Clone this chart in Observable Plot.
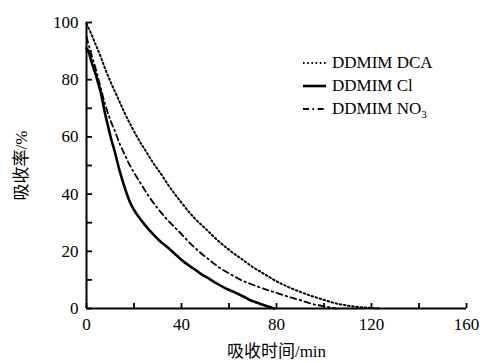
<!DOCTYPE html>
<html>
<head>
<meta charset="utf-8">
<script src="https://cdn.jsdelivr.net/npm/d3@7"></script>
<script src="https://cdn.jsdelivr.net/npm/@observablehq/plot@0.6"></script>
<style>
  html, body { margin: 0; padding: 0; background: #fff; }
  #wrap { position: relative; width: 480px; height: 363px; font-family: 'Liberation Serif', 'Noto Sans CJK SC', serif; }
  #wrap svg, #wrap svg text { font-family: 'Liberation Serif', 'Noto Sans CJK SC', serif !important; }
  #legend { position: absolute; left: 302px; top: 51px; font-size: 17px; color: #000; line-height: 23px; }
  #legend .row { display: flex; align-items: center; height: 23px; white-space: nowrap; }
  #legend svg { margin-right: 5px; }
  #legend sub { font-size: 11px; vertical-align: -4px; line-height: 0; }
</style>
</head>
<body>
<div id="wrap"></div>
<script>
// ---- data ----
const xTicks = [0, 20, 40, 60, 80, 100, 120, 140, 160];
const xLabels = [0, 40, 80, 120, 160];
const yTicks = [0, 10, 20, 30, 40, 50, 60, 70, 80, 90, 100];
const yLabels = [0, 20, 40, 60, 80, 100];

const seriesNames = ["DDMIM DCA", "DDMIM Cl", "DDMIM NO3"];

const tDCA = [0, 2, 4, 6, 8, 10, 13, 16, 19, 22, 25, 28, 31, 35, 40, 45, 50, 55, 60, 65, 70, 75, 80, 85, 90, 95, 100, 105, 110, 115, 120, 124];
const vDCA = [99.5, 96, 92, 88, 83.5, 79.5, 74, 68.5, 63.5, 59, 55, 51, 47.5, 42.5, 37, 32, 28, 24, 20.5, 17.5, 14.5, 12, 9.5, 7.5, 5.8, 4.3, 3, 1.8, 1, 0.5, 0.2, 0];

const tCl = [0, 1, 2, 3, 4, 5, 6, 7, 8, 9, 10, 12, 14, 16, 18, 20, 22, 25, 28, 31, 34, 38, 41, 45, 48, 52, 55, 58, 62, 66, 69, 72, 76, 78, 79];
const vCl = [91, 89.5, 86.5, 84, 81.5, 78.5, 75.5, 71.5, 67.5, 64, 60.5, 54.5, 48, 42.5, 37.8, 34.5, 32, 28.8, 26, 23.5, 21.5, 18.5, 16.3, 14, 12.2, 10.2, 8.7, 7.3, 5.8, 4.2, 2.9, 2, 0.8, 0.3, 0];

const tNO3 = [0, 2, 4, 6, 8, 10, 12, 14, 16, 18, 20, 23, 26, 30, 33, 37, 40, 44, 48, 52, 56, 60, 65, 70, 75, 80, 85, 90, 95, 100, 105];
const vNO3 = [95, 89, 83.5, 77, 71, 66, 62, 57.5, 54, 50.5, 47.5, 43.5, 39.5, 35, 32, 28.5, 26, 22.5, 19.5, 16.8, 14.3, 12.3, 10, 8.3, 6.8, 5.5, 4.1, 2.9, 1.6, 0.8, 0];

const xLabel = "吸收时间/min";
const yLabel = "吸收率/%";

// ---- build table ----
const rows = [];
tDCA.forEach((t, i) => rows.push({s: seriesNames[0], t, v: vDCA[i]}));
tCl.forEach((t, i) => rows.push({s: seriesNames[1], t, v: vCl[i]}));
tNO3.forEach((t, i) => rows.push({s: seriesNames[2], t, v: vNO3[i]}));

const styles = {
  "DDMIM DCA": {strokeWidth: 2, strokeDasharray: "1.6,2.6"},
  "DDMIM Cl": {strokeWidth: 2.6, strokeDasharray: null},
  "DDMIM NO3": {strokeWidth: 1.8, strokeDasharray: "6,3.5,1.6,3.5"}
};

const lineMarks = seriesNames.map(name => Plot.line(rows.filter(d => d.s === name), {
  x: "t", y: "v", stroke: "black", curve: "monotone-x",
  strokeWidth: styles[name].strokeWidth,
  strokeDasharray: styles[name].strokeDasharray
}));

const font = "'Liberation Serif', 'Noto Sans CJK SC', serif";

const chart = Plot.plot({
  width: 480,
  height: 363,
  marginLeft: 86,
  marginRight: 14,
  marginTop: 22,
  marginBottom: 55,
  style: {fontFamily: font, fontSize: "17px", background: "white", color: "black"},
  x: {domain: [0, 160]},
  y: {domain: [0, 100]},
  marks: [
    // inward ticks
    Plot.axisX(xTicks, {tickSize: 5, dy: -5, strokeWidth: 1.8, tickFormat: () => "", label: null}),
    Plot.axisY(yTicks, {tickSize: 6, dx: 6, strokeWidth: 1.8, tickFormat: () => "", label: null}),
    // labels
    Plot.axisX(xLabels, {tickSize: 0, tickPadding: 9, tickFormat: d => String(d), fontSize: 17, fontFamily: font,
      label: xLabel, labelAnchor: "center", labelOffset: 48, labelArrow: "none"}),
    Plot.axisY(yLabels, {tickSize: 0, tickPadding: 8, tickFormat: d => String(d), fontSize: 17, fontFamily: font,
      label: yLabel, labelAnchor: "center", labelOffset: 72, labelArrow: "none"}),
    Plot.ruleX([0], {strokeWidth: 2}),
    Plot.ruleY([0], {strokeWidth: 2}),
    ...lineMarks
  ]
});

const wrap = document.getElementById("wrap");
wrap.appendChild(chart);

// ---- legend (HTML overlay) ----
const legend = document.createElement("div");
legend.id = "legend";
const legendHTML = {
  "DDMIM DCA": "DDMIM DCA",
  "DDMIM Cl": "DDMIM Cl",
  "DDMIM NO3": "DDMIM NO<sub>3</sub>"
};
seriesNames.forEach(name => {
  const row = document.createElement("div");
  row.className = "row";
  const st = styles[name];
  row.innerHTML = `<svg width="25" height="10"><line x1="1" x2="24" y1="5" y2="5" stroke="black" stroke-width="${st.strokeWidth}" ${st.strokeDasharray ? `stroke-dasharray="${st.strokeDasharray}"` : ""}/></svg><span>${legendHTML[name]}</span>`;
  legend.appendChild(row);
});
wrap.appendChild(legend);
</script>
</body>
</html>
